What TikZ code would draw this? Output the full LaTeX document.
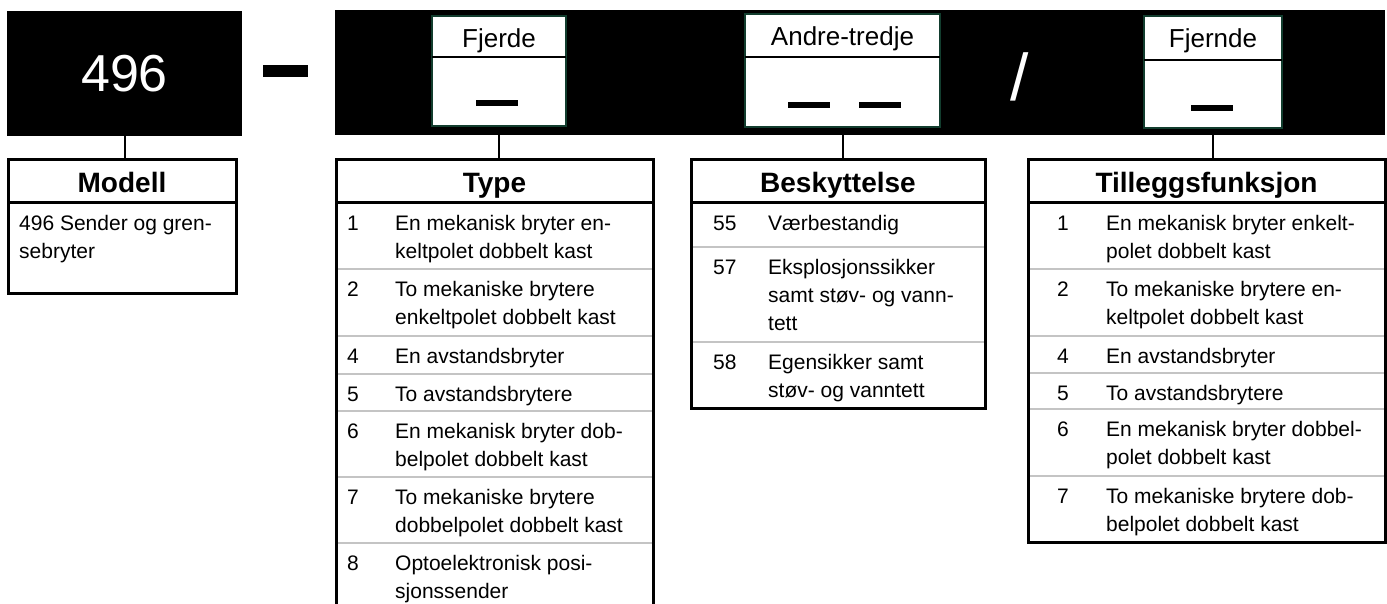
\documentclass[tikz,border=0pt]{standalone}
\usepackage{fontspec}
\setmainfont{Liberation Sans}
\usetikzlibrary{positioning}

\definecolor{slotgreen}{HTML}{123D2E}
\definecolor{rowgray}{HTML}{C4C4C4}

\begin{document}
\begin{tikzpicture}[x=1pt, y=-1pt,
  blackbox/.style={fill=black, inner sep=0pt, outer sep=0pt},
  slot/.style={draw=slotgreen, line width=2.5pt, fill=white, inner sep=0pt, outer sep=0pt},
  slotlabel/.style={font=\fontsize{26}{30}\selectfont, inner sep=0pt, anchor=base},
  divider/.style={line width=1.2pt},
  headcell/.style={draw, line width=3pt, minimum height=43pt, inner sep=0pt, outer sep=0pt, anchor=north,
    font=\bfseries\fontsize{28}{32}\selectfont, text height=28pt, text depth=5pt},
  frame/.style={line width=3pt},
  rowline/.style={draw=rowgray, line width=1.5pt},
  link/.style={line width=2pt},
  cell/.style={anchor=north west, inner sep=0pt, align=left, font=\fontsize{21}{28}\selectfont}
]
\useasboundingbox (0,0) rectangle (1387,604);

% Code field on top
\node[blackbox, minimum width=235pt, minimum height=125pt, text=white,
  font=\fontsize{52}{60}\selectfont] (code) at (124.5,73.5) {496};
\fill (263,65) rectangle (308,77);
\node[blackbox, minimum width=1050pt, minimum height=125pt] (band) at (860,72.5) {};

% Slots inside the band
\node[slot, minimum width=134pt, minimum height=110pt] (fjerde) at (499,71) {};
\draw[divider] (432,57) -- (566,57);
\node[slotlabel] (fjerde-lbl) at (499,48) {Fjerde};
\fill (476,100) rectangle (518,106);

\node[slot, minimum width=195pt, minimum height=113pt] (andre) at (842.5,70.5) {};
\draw[divider] (745,57) -- (940,57);
\node[slotlabel] (andre-lbl) at (842.5,46) {Andre-tredje};
\fill (788,102) rectangle (830,108);
\fill (859,102) rectangle (901,108);

\node[font=\fontsize{66}{70}\selectfont, text=white, inner sep=0pt, anchor=base] (slash) at (1019.5,100.6) {/};

\node[slot, minimum width=138pt, minimum height=112pt] (fjernde) at (1213,72) {};
\draw[divider] (1144,60) -- (1282,60);
\node[slotlabel] (fjernde-lbl) at (1213,48) {Fjernde};
\fill (1191,105) rectangle (1233,111);

% Table heads
\node[headcell, minimum width=228pt] (modellhead) at (122,160) {Modell};
\node[headcell, minimum width=317pt] (typehead) at (494.5,160) {Type};
\node[headcell, minimum width=294pt] (beskhead) at (838,160) {Beskyttelse};
\node[headcell, minimum width=357pt] (tillhead) at (1206.5,160) {Tilleggsfunksjon};

% Links down to the tables
\draw[link] (code.south) -- (code.south |- modellhead.north);
\draw[link] (fjerde.south |- band.south) -- (fjerde.south |- typehead.north);
\draw[link] (andre.south |- band.south) -- (andre.south |- beskhead.north);
\draw[link] (fjernde.south |- band.south) -- (fjernde.south |- tillhead.north);

% Modell
\node[cell] (modell-txt) at (19,210.4) {\strut 496 Sender og gren-\\sebryter};
\draw[frame] (modellhead.south west) -- ++(0,90) -| (modellhead.south east);

% Type
\foreach \y in {269,336,374,411,477,543}
  \draw[rowline] (336,\y) -- (653,\y);
\foreach \nr/\ry/\txt [count=\i] in {
    1/203/{En mekanisk bryter en-\\keltpolet dobbelt kast},
    2/269/{To mekaniske brytere\\enkeltpolet dobbelt kast},
    4/336/{En avstandsbryter},
    5/374/{To avstandsbrytere},
    6/411/{En mekanisk bryter dob-\\belpolet dobbelt kast},
    7/477/{To mekaniske brytere\\dobbelpolet dobbelt kast},
    8/543/{Optoelektronisk posi-\\sjonssender}}{
  \node[cell] (type-nr\i) at (347,\ry+7.4) {\strut\nr};
  \node[cell] (type-txt\i) at (395,\ry+7.4) {\strut\txt};
}
\draw[frame] (typehead.south west) -- ++(0,402);
\draw[frame] (typehead.south east) -- ++(0,402);

% Beskyttelse
\foreach \y in {247,342}
  \draw[rowline] (691,\y) -- (985,\y);
\foreach \nr/\ry/\txt [count=\i] in {
    55/203/{V\ae rbestandig},
    57/247/{Eksplosjonssikker\\samt st\o v- og vann-\\tett},
    58/342/{Egensikker samt\\st\o v- og vanntett}}{
  \node[cell] (besk-nr\i) at (713,\ry+7.4) {\strut\nr};
  \node[cell] (besk-txt\i) at (768,\ry+7.4) {\strut\txt};
}
\draw[frame] (beskhead.south west) -- ++(0,205) -| (beskhead.south east);

% Tilleggsfunksjon
\foreach \y in {269,336,373,409,476}
  \draw[rowline] (1028,\y) -- (1385,\y);
\foreach \nr/\ry/\txt [count=\i] in {
    1/203/{En mekanisk bryter enkelt-\\polet dobbelt kast},
    2/269/{To mekaniske brytere en-\\keltpolet dobbelt kast},
    4/336/{En avstandsbryter},
    5/373/{To avstandsbrytere},
    6/409/{En mekanisk bryter dobbel-\\polet dobbelt kast},
    7/476/{To mekaniske brytere dob-\\belpolet dobbelt kast}}{
  \node[cell] (till-nr\i) at (1057,\ry+7.4) {\strut\nr};
  \node[cell] (till-txt\i) at (1106,\ry+7.4) {\strut\txt};
}
\draw[frame] (tillhead.south west) -- ++(0,339) -| (tillhead.south east);

\end{tikzpicture}
\end{document}
